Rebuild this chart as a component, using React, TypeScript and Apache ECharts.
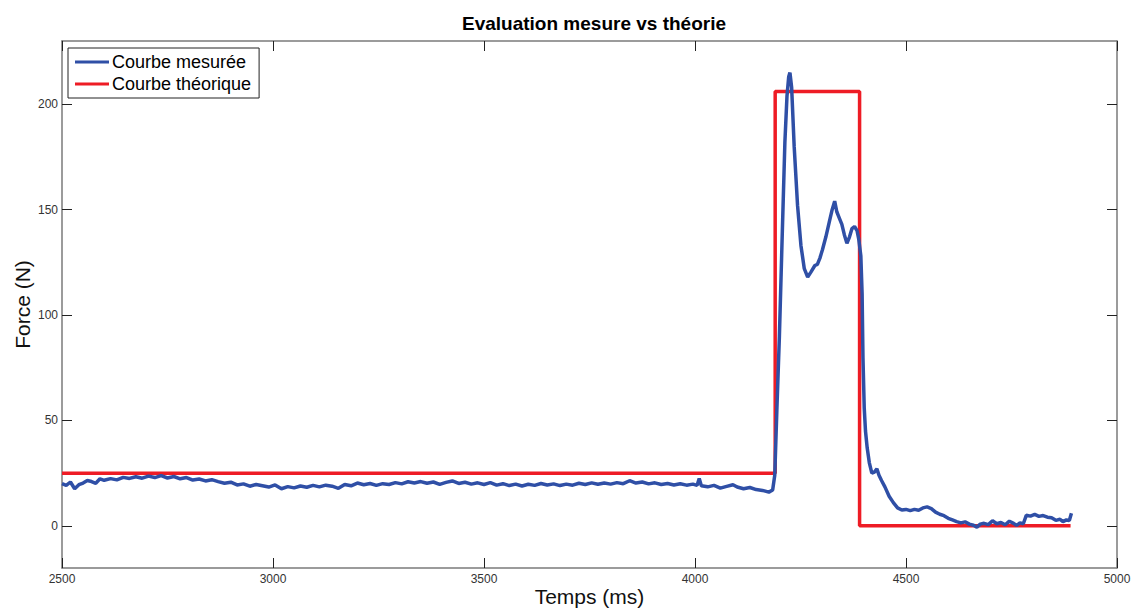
import React, { useEffect, useRef } from "react";
import * as echarts from "echarts";

const titleText = "Evaluation mesure vs théorie";
const xName = "Temps (ms)";
const yName = "Force (N)";
const seriesNames = ["Courbe mesurée", "Courbe théorique"];
const yTickValues = [0, 50, 100, 150, 200];

const baseline: [number, number][] = [
  [2500, 20.0], [2510, 19.2], [2520, 20.8], [2530, 17.6], [2540, 19.5], [2550, 20.3], [2560, 21.5],
  [2570, 21.0], [2580, 20.2], [2590, 22.3], [2600, 21.6], [2615, 22.4], [2630, 21.8], [2645, 23.0],
  [2660, 22.5], [2675, 23.3], [2690, 22.6], [2705, 23.6], [2720, 22.9], [2735, 23.8], [2750, 22.7],
  [2765, 23.4], [2780, 22.3], [2795, 22.9], [2810, 21.7], [2825, 22.2], [2840, 21.3], [2855, 21.9],
  [2870, 21.0], [2885, 20.2], [2900, 20.7], [2915, 19.4], [2930, 19.9], [2945, 18.8], [2960, 19.6],
  [2975, 19.0], [2990, 18.4], [3005, 19.4], [3020, 17.6], [3035, 18.6], [3050, 18.0], [3065, 18.9],
  [3080, 18.3], [3095, 19.2], [3110, 18.5], [3125, 19.3], [3140, 18.8], [3155, 17.8], [3170, 19.6],
  [3185, 19.0], [3200, 20.3], [3215, 19.5], [3230, 20.1], [3245, 19.2], [3260, 20.0], [3275, 19.6],
  [3290, 20.5], [3305, 19.9], [3320, 20.9], [3335, 20.3], [3350, 21.0], [3365, 20.2], [3380, 20.8],
  [3395, 19.7], [3410, 20.6], [3425, 21.3], [3440, 20.1], [3455, 20.7], [3470, 19.8], [3485, 20.4],
  [3500, 19.6], [3515, 20.5], [3530, 19.3], [3545, 20.0], [3560, 19.1], [3575, 19.8], [3590, 18.9],
  [3605, 19.7], [3620, 19.2], [3635, 20.1], [3650, 19.4], [3665, 19.9], [3680, 19.1], [3695, 19.8],
  [3710, 19.3], [3725, 20.2], [3740, 19.6], [3755, 20.4], [3770, 19.7], [3785, 20.3], [3800, 19.8],
  [3815, 20.5], [3830, 20.0], [3845, 21.4], [3860, 20.3], [3875, 20.8], [3890, 19.9], [3905, 20.4],
  [3920, 19.6], [3935, 20.1], [3950, 19.4], [3965, 20.0], [3980, 19.3], [3995, 19.8], [4005, 19.2],
  [4010, 22.5], [4015, 19.0], [4030, 18.5], [4045, 19.2], [4060, 17.9], [4075, 18.7], [4090, 19.5],
  [4100, 18.4], [4115, 17.6], [4130, 18.2], [4145, 17.2], [4160, 16.8], [4175, 16.0], [4184, 17.0],
];

const peak: [number, number][] = [
  [4189, 24], [4194, 55], [4200, 90], [4207, 140], [4213, 182], [4218, 204], [4222, 213], [4225, 215],
  [4229, 208], [4235, 180], [4243, 152], [4251, 133], [4259, 122], [4267, 118], [4275, 120.5],
  [4284, 123.5], [4290, 124], [4296, 127], [4302, 131], [4310, 137], [4318, 144], [4325, 150],
  [4331, 154], [4336, 149], [4342, 146], [4348, 143], [4354, 138], [4360, 134], [4366, 137],
  [4372, 141], [4378, 142], [4384, 140], [4388, 136],
];

const decay: [number, number][] = [
  [4393, 128], [4396, 110], [4398, 80], [4401, 56], [4404, 45], [4408, 37], [4413, 30],
  [4419, 25], [4425, 25.5], [4431, 27], [4436, 24], [4442, 21.5], [4450, 18.5], [4460, 14],
  [4470, 11], [4480, 8.5], [4490, 7.5], [4500, 7.8], [4510, 7.2], [4520, 7.8], [4530, 7.4],
  [4540, 8.5], [4550, 9.0], [4560, 8.2], [4570, 6.5], [4580, 5.5], [4590, 4.8], [4600, 3.6],
  [4610, 2.8], [4620, 2.0], [4630, 1.4], [4640, 1.9], [4650, 0.8], [4660, 0.3], [4668, -0.6],
  [4676, 0.8], [4685, 1.2], [4695, 0.6], [4705, 2.4], [4715, 1.0], [4725, 1.6], [4735, 0.5],
  [4745, 2.2], [4755, 1.2], [4762, 0.2], [4770, 1.4], [4778, 1.0], [4785, 5.0], [4795, 4.6],
  [4805, 5.4], [4815, 4.5], [4825, 4.9], [4835, 4.1], [4845, 3.8], [4855, 2.6], [4865, 3.1],
  [4872, 2.0], [4880, 2.8], [4887, 2.5], [4892, 6.0],
];

// theoretical curve
const theory: [number, number][] = [
  [2500, 25], [4190, 25], [4190, 206], [4390, 206], [4390, 0], [4890, 0],
];

const BLUE = "#2f4fa6";
const RED = "#ee1c25";
const AXIS = "#7a7a7a";
const TICK_FONT = "'Liberation Sans Narrow', 'Arial Narrow', Arial, sans-serif";
const FONT = "'Liberation Sans', Arial, Helvetica, sans-serif";

export default function App() {
  const ref = useRef<HTMLDivElement>(null);
  useEffect(() => {
    if (!ref.current) return;
    const chart = echarts.init(ref.current, null, { renderer: "svg" });
    const measured = [...baseline, ...peak, ...decay];
    const axisLine = { show: true, onZero: false, lineStyle: { color: AXIS, width: 1.5 } };
    const tick = { show: true, inside: true, length: 10, lineStyle: { color: "#222", width: 1 } };
    const plain = (v: number) => String(v);
    chart.setOption({
      animation: false,
      backgroundColor: "#ffffff",
      title: {
        text: titleText,
        left: 589,
        top: 9,
        textAlign: "center",
        textStyle: { fontFamily: FONT, fontWeight: "bold", fontSize: 19, color: "#000" },
      },
      legend: {
        data: seriesNames,
        orient: "vertical",
        left: 68,
        top: 48,
        icon: "rect",
        itemWidth: 34,
        itemHeight: 3,
        itemGap: 4,
        padding: [5, 8, 5, 7],
        backgroundColor: "#fff",
        borderColor: "#222",
        borderWidth: 1,
        textStyle: { fontFamily: FONT, fontSize: 18, color: "#000", padding: [0, 0, 0, -2] },
      },
      grid: {
        left: 62,
        right: 14,
        top: 41,
        bottom: 42,
        containLabel: false,
        outerBoundsMode: "none",
      },
      xAxis: [
        {
          type: "value",
          min: 2500,
          max: 5000,
          interval: 500,
          position: "bottom",
          axisLine,
          axisTick: tick,
          splitLine: { show: false },
          axisLabel: { fontFamily: TICK_FONT, fontSize: 12, color: "#333", margin: 5, formatter: plain },
          name: xName,
          nameLocation: "middle",
          nameMoveOverlap: false,
          nameGap: 17,
          nameTextStyle: {
            fontFamily: FONT,
            fontSize: 21,
            color: "#111",
            lineHeight: 22,
            verticalAlign: "top",
          },
        },
        {
          type: "value",
          min: 2500,
          max: 5000,
          interval: 500,
          position: "top",
          axisLine,
          axisTick: tick,
          splitLine: { show: false },
          axisLabel: { show: false },
        },
      ],
      yAxis: [
        {
          type: "value",
          min: -20,
          max: 230,
          position: "left",
          axisLine,
          axisTick: { ...tick, customValues: yTickValues },
          splitLine: { show: false },
          axisLabel: {
            customValues: yTickValues,
            fontFamily: TICK_FONT,
            fontSize: 12,
            color: "#333",
            margin: 4,
            formatter: plain,
          },
          name: yName,
          nameLocation: "middle",
          nameMoveOverlap: false,
          nameGap: 29,
          nameRotate: 90,
          nameTextStyle: { fontFamily: FONT, fontSize: 21, color: "#111" },
        },
        {
          type: "value",
          min: -20,
          max: 230,
          position: "right",
          axisLine,
          axisTick: { ...tick, customValues: yTickValues },
          splitLine: { show: false },
          axisLabel: { show: false, customValues: yTickValues },
        },
      ],
      series: [
        {
          name: seriesNames[0],
          type: "line",
          data: measured,
          showSymbol: false,
          symbol: "none",
          z: 3,
          lineStyle: { color: BLUE, width: 3.5 },
          itemStyle: { color: BLUE },
        },
        {
          name: seriesNames[1],
          type: "line",
          data: theory,
          showSymbol: false,
          symbol: "none",
          z: 2,
          lineStyle: { color: RED, width: 3.5 },
          itemStyle: { color: RED },
        },
      ],
    });
    return () => chart.dispose();
  }, []);
  return (
    <div
      ref={ref}
      style={{ position: "fixed", left: 0, top: 0, width: 1131, height: 610, background: "#fff" }}
    />
  );
}
